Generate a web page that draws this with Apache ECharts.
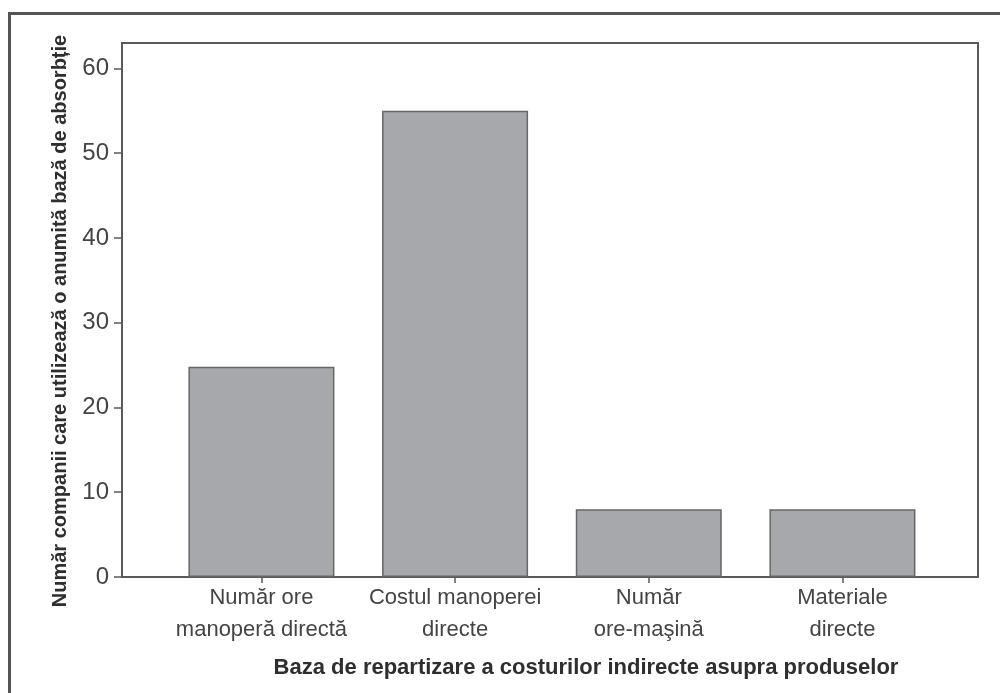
<!DOCTYPE html>
<html>
<head>
<meta charset="utf-8">
<script src="https://cdn.jsdelivr.net/npm/echarts@6/dist/echarts.min.js"></script>
<style>
html,body{margin:0;padding:0;background:#fff;}
#chart{width:1000px;height:693px;}
</style>
</head>
<body>
<div id="chart"></div>
<script>
const categories = ['Număr ore\nmanoperă directă', 'Costul manoperei\ndirecte', 'Număr\nore-maşină', 'Materiale\ndirecte'];
const values = [24.8, 55, 8, 8];
const yTicks = [0, 10, 20, 30, 40, 50, 60];
const yTitle = 'Număr companii care utilizează o anumită bază de absorbție';
const xTitle = 'Baza de repartizare a costurilor indirecte asupra produselor';

const positions = categories.map((c, i) => i);
const chart = echarts.init(document.getElementById('chart'), null, {renderer: 'canvas'});
const font = 'Liberation Sans, Arial, sans-serif';
chart.setOption({
  backgroundColor: '#fff',
  animation: false,
  graphic: [{
    type: 'rect', left: 7, top: 11, shape: {width: 1010, height: 700},
    style: {fill: 'none', stroke: '#555', lineWidth: 3}, silent: true
  }],
  grid: {left: 122, top: 43, right: 22, bottom: 116, show: true, borderColor: '#5a5a5a', borderWidth: 2, backgroundColor: 'transparent'},
  xAxis: {
    type: 'value', min: -0.72, max: 3.70,
    name: xTitle, nameLocation: 'middle', nameGap: 80,
    nameTextStyle: {fontFamily: font, fontSize: 22, fontWeight: 'bold', color: '#2e2e2e', padding: [0, 0, 0, 72]},
    axisLine: {show: true, onZero: false, lineStyle: {color: '#5a5a5a', width: 2}},
    axisTick: {show: true, customValues: positions, length: 6, lineStyle: {color: '#5a5a5a', width: 1.5}},
    axisLabel: {show: true, customValues: positions, formatter: v => categories[Math.round(v)] || '', fontFamily: font, fontSize: 22, color: '#444', lineHeight: 32, margin: 5},
    splitLine: {show: false}
  },
  yAxis: {
    type: 'value', min: 0, max: 63, interval: 10,
    name: yTitle, nameLocation: 'middle', nameGap: 52,
    nameTextStyle: {fontFamily: font, fontSize: 20, fontWeight: 'bold', color: '#2e2e2e', padding: [0, 22, 0, 0]},
    axisLine: {show: true, onZero: false, lineStyle: {color: '#5a5a5a', width: 2}},
    axisTick: {show: true, length: 8, lineStyle: {color: '#5a5a5a', width: 1.5}},
    axisLabel: {fontFamily: font, fontSize: 24, color: '#444', margin: 13, showMaxLabel: false, formatter: v => yTicks.includes(v) ? String(v) : ''},
    splitLine: {show: false}
  },
  series: [{
    type: 'bar',
    data: positions.map((p, i) => [p, values[i]]),
    barWidth: 146,
    itemStyle: {color: '#a7a8ab', borderColor: '#666', borderWidth: 1.5}
  }]
});
</script>
</body>
</html>
